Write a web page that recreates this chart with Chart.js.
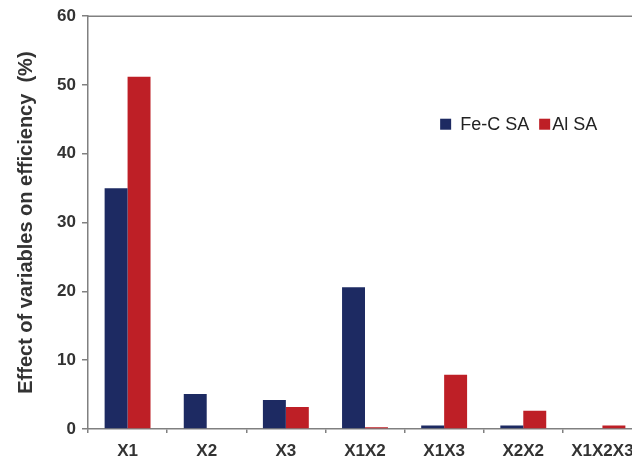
<!DOCTYPE html>
<html>
<head>
<meta charset="utf-8">
<script src="https://cdn.jsdelivr.net/npm/chart.js@4/dist/chart.umd.min.js"></script>
<style>
  html, body { margin: 0; padding: 0; background: #fff; overflow: hidden; }
  #wrap { width: 642px; height: 463px; }
</style>
</head>
<body>
<div id="wrap"><canvas id="c" width="642" height="463"></canvas></div>
<script>
// Effect of each variable / interaction term on removal efficiency
const categories = ['X1', 'X2', 'X3', 'X1X2', 'X1X3', 'X2X2', 'X1X2X3'];
const feCSA = [35.0, 5.1, 4.2, 20.6, 0.5, 0.5, 0.1];
const alSA = [51.2, 0.1, 3.2, 0.25, 7.9, 2.65, 0.5];
const yTicks = [0, 10, 20, 30, 40, 50, 60];

const navy = '#1d2a62';
const red = '#be1f26';
const axisGrey = '#808080';
const textDark = '#333333';
const fontFamily = '"Liberation Sans", Arial, sans-serif';

// Frame line along the top of the plot area
const topFrame = {
  id: 'topFrame',
  afterDraw(chart) {
    const { ctx, chartArea } = chart;
    ctx.save();
    ctx.strokeStyle = axisGrey;
    ctx.lineWidth = 1.5;
    ctx.beginPath();
    ctx.moveTo(chartArea.left, chartArea.top);
    ctx.lineTo(chartArea.right, chartArea.top);
    ctx.stroke();
    ctx.restore();
  }
};

// Legend drawn inside the plot area, right of centre
const insideLegend = {
  id: 'insideLegend',
  afterDraw(chart) {
    const { ctx } = chart;
    const x0 = chart.scales.x.getPixelForValue(4) - 4;
    const y0 = chart.scales.y.getPixelForValue(44.3);
    ctx.save();
    ctx.font = '18px ' + fontFamily;
    ctx.textBaseline = 'middle';
    let x = x0;
    chart.data.datasets.forEach((ds, i) => {
      ctx.fillStyle = ds.backgroundColor;
      ctx.fillRect(x, y0 - 5.5, 11, 11);
      x += i === 0 ? 20 : 13;
      ctx.fillStyle = '#222';
      ctx.fillText(ds.label, x, y0 + 1);
      x += ctx.measureText(ds.label).width + 10;
    });
    ctx.restore();
  }
};

new Chart(document.getElementById('c'), {
  type: 'bar',
  data: {
    labels: categories,
    datasets: [
      { label: 'Fe-C SA', data: feCSA, backgroundColor: navy },
      { label: 'Al SA', data: alSA, backgroundColor: red }
    ]
  },
  options: {
    responsive: false,
    animation: false,
    devicePixelRatio: 1,
    layout: { padding: { top: 15, right: 0, left: 0, bottom: 0 } },
    datasets: { bar: { categoryPercentage: 0.58, barPercentage: 1.0 } },
    plugins: { legend: { display: false }, tooltip: { enabled: false } },
    scales: {
      x: {
        grid: { display: true, drawOnChartArea: false, drawTicks: true, tickLength: 4, color: axisGrey, lineWidth: 1.5 },
        border: { display: true, color: axisGrey, width: 1.5 },
        ticks: {
          color: textDark,
          padding: 8,
          maxRotation: 0,
          autoSkip: false,
          font: { family: fontFamily, size: 17, weight: 'bold' }
        },
        afterFit(scale) { scale.height = 34; }
      },
      y: {
        min: 0,
        max: 60,
        afterBuildTicks(scale) { scale.ticks = yTicks.map(v => ({ value: v })); },
        grid: { display: true, drawOnChartArea: false, drawTicks: true, tickLength: 6, color: axisGrey, lineWidth: 1.5 },
        border: { display: true, color: axisGrey, width: 1.5 },
        ticks: {
          color: textDark,
          padding: 6,
          font: { family: fontFamily, size: 17, weight: 'bold' }
        },
        title: {
          display: true,
          text: 'Effect of variables on efficiency  (%)',
          color: textDark,
          padding: { top: 14, bottom: 0 },
          font: { family: fontFamily, size: 20, weight: 'bold' }
        },
        afterFit(scale) { scale.width = 88; }
      }
    }
  },
  plugins: [topFrame, insideLegend]
});
</script>
</body>
</html>
